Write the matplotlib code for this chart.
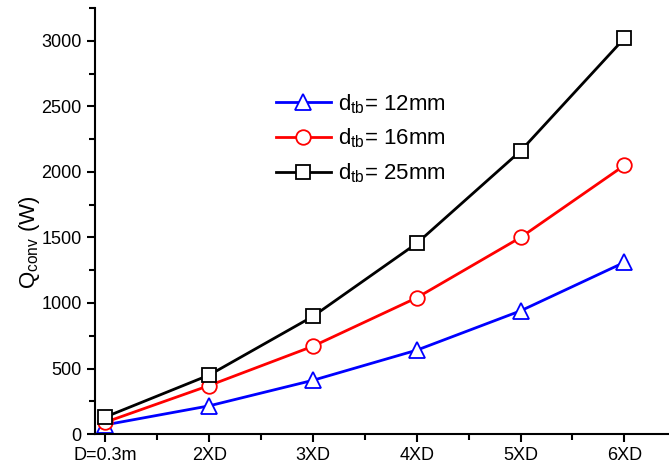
import matplotlib.pyplot as plt
from matplotlib.ticker import MultipleLocator

plt.rcParams['font.family'] = ['Liberation Sans', 'DejaVu Sans']
plt.rcParams['mathtext.fontset'] = 'custom'
plt.rcParams['mathtext.rm'] = 'Liberation Sans'
plt.rcParams['mathtext.it'] = 'Liberation Sans:italic'

labels = ['D=0.3m', '2XD', '3XD', '4XD', '5XD', '6XD']
q_12 = [70, 215, 410, 640, 940, 1310]
q_16 = [90, 370, 670, 1040, 1500, 2050]
q_25 = [130, 450, 898, 1455, 2160, 3020]

fig = plt.figure(figsize=(6.69, 4.68), dpi=100)
ax = fig.add_axes([0.142, 0.0726, 0.858, 0.91])
x = list(range(len(labels)))

ax.plot(x, q_12, color='blue', lw=2, marker='^', ms=11, mfc='white', mec='blue', mew=1.3,
        label=r'd$_{\rm tb}$= 12mm')
ax.plot(x, q_16, color='red', lw=2, marker='o', ms=10.5, mfc='white', mec='red', mew=1.3,
        label=r'd$_{\rm tb}$= 16mm')
ax.plot(x, q_25, color='black', lw=2, marker='s', ms=9.5, mfc='white', mec='black', mew=1.3,
        label=r'd$_{\rm tb}$= 25mm')

ax.set_xlim(-0.1, 5.43)
ax.set_ylim(0, 3250)
ax.set_xticks(x)
ax.set_xticklabels(labels)
ax.xaxis.set_minor_locator(MultipleLocator(0.5))
ax.yaxis.set_major_locator(MultipleLocator(500))
ax.yaxis.set_minor_locator(MultipleLocator(250))
ax.tick_params(labelsize=13, width=1.5, length=6, direction='out')
ax.tick_params(which='minor', width=1.5, length=4)
ax.spines['top'].set_visible(False)
ax.spines['right'].set_visible(False)
ax.spines['left'].set_linewidth(1.5)
ax.spines['bottom'].set_linewidth(1.5)

ax.set_ylabel(r'Q$_{\rm conv}$ (W)', fontsize=16)
ax.yaxis.set_label_coords(-0.093, 0.45)
ax.legend(loc='upper left', bbox_to_anchor=(0.28, 0.85), frameon=False, fontsize=16,
          handlelength=2.5, labelspacing=0.5, handletextpad=0.3)

fig.savefig('out.png', dpi=100)
